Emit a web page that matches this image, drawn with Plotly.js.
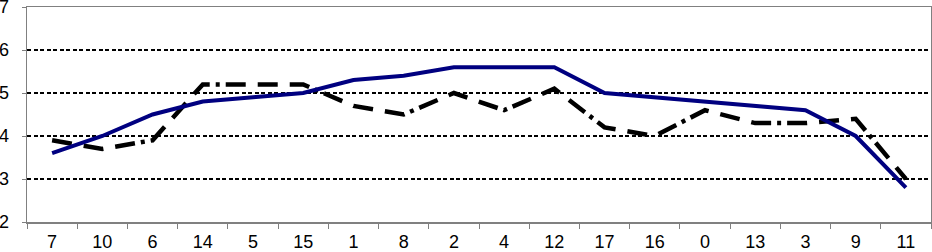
<!DOCTYPE html>
<html>
<head>
<meta charset="utf-8">
<script src="https://cdn.plot.ly/plotly-3.0.1.min.js"></script>
<style>html,body{margin:0;padding:0;background:#fff;}#chart{width:932px;height:252px;}</style>
</head>
<body>
<div id="chart"></div>
<script>
const categories = ["7","10","6","14","5","15","1","8","2","4","12","17","16","0","13","3","9","11"];
const solidSeries = [3.6,4.0,4.5,4.8,4.9,5.0,5.3,5.4,5.6,5.6,5.6,5.0,4.9,4.8,4.7,4.6,4.0,2.8];
const dashedSeries = [3.9,3.7,3.9,5.2,5.2,5.2,4.7,4.5,5.0,4.6,5.1,4.2,4.0,4.6,4.3,4.3,4.4,3.0];
const yTicks = [2,3,4,5,6,7];

const traces = [
  {x: categories, y: dashedSeries, type: 'scatter', mode: 'lines',
   line: {color: '#000000', width: 4.5, dash: '20px,12px,20px,12px,20px,6px,4px,6px'},
   hoverinfo: 'skip', showlegend: false},
  {x: categories, y: solidSeries, type: 'scatter', mode: 'lines',
   line: {color: '#000080', width: 4},
   hoverinfo: 'skip', showlegend: false}
];

const layout = {
  width: 932, height: 252,
  margin: {l: 27, r: 1, t: 7, b: 30, pad: 0},
  paper_bgcolor: '#ffffff', plot_bgcolor: '#ffffff',
  font: {family: 'Liberation Sans, Arial, sans-serif', size: 18, color: '#000000'},
  showlegend: false,
  xaxis: {
    type: 'category', categoryorder: 'array', categoryarray: categories,
    range: [-0.5, categories.length - 0.5],
    showline: true, linecolor: '#808080', linewidth: 1.5, mirror: true,
    ticks: 'outside', tickson: 'boundaries', ticklen: 5, tickcolor: '#808080',
    showgrid: false, zeroline: false, fixedrange: true,
    ticklabelstandoff: 3, ticklabeloverflow: 'allow',
    tickfont: {size: 18}
  },
  yaxis: {
    range: [2, 7], tickvals: yTicks, ticktext: yTicks.map(String),
    showline: true, linecolor: '#808080', linewidth: 1.5, mirror: true,
    ticks: 'outside', ticklen: 4, tickcolor: '#808080',
    showgrid: true, gridcolor: '#000000', gridwidth: 1.4, griddash: '4px,2.5px',
    zeroline: false, fixedrange: true,
    ticklabelstandoff: 9, ticklabeloverflow: 'allow',
    tickfont: {size: 18}
  }
};

Plotly.newPlot('chart', traces, layout, {staticPlot: true, displayModeBar: false});
</script>
</body>
</html>
